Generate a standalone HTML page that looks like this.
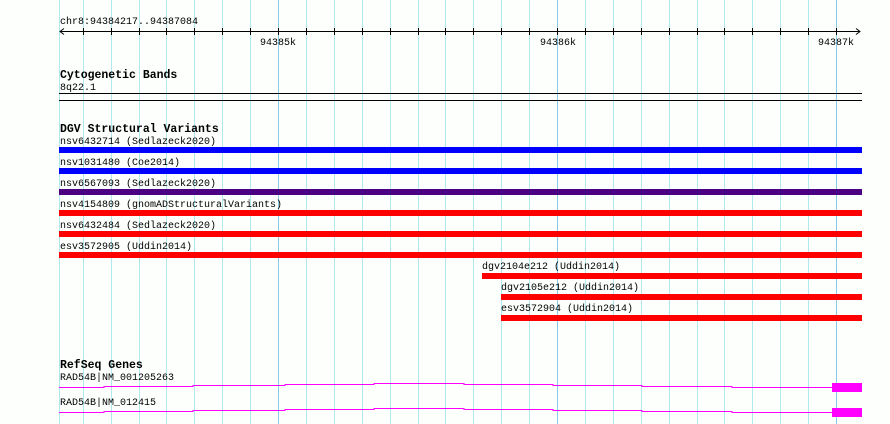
<!DOCTYPE html>
<html><head><meta charset="utf-8"><style>
html,body{margin:0;padding:0;background:#fff}
svg{display:block}
text{font-family:"Liberation Mono","DejaVu Sans Mono",monospace;font-size:10px;fill:#000}
.t{font-weight:bold;font-size:11.5px}
</style></head><body>
<svg width="890" height="424" viewBox="0 0 890 424" xmlns="http://www.w3.org/2000/svg">
<rect width="890" height="424" fill="#fcfffc"/>
<g stroke="#b0e8ee" stroke-width="1">
<path d="M59.5 0V424M83.5 0V424M111.5 0V424M139.5 0V424M166.5 0V424M194.5 0V424M222.5 0V424M250.5 0V424M306.5 0V424M334.5 0V424M362.5 0V424M390.5 0V424M418.5 0V424M445.5 0V424M473.5 0V424M501.5 0V424M529.5 0V424M585.5 0V424M613.5 0V424M641.5 0V424M669.5 0V424M697.5 0V424M724.5 0V424M752.5 0V424M780.5 0V424M808.5 0V424"/>
</g>
<path d="M278.5 0V424M557.5 0V424M836.5 0V424" stroke="#88cce8"/>
<path d="M83.5 28V35M111.5 28V35M139.5 28V35M166.5 28V35M194.5 28V35M222.5 28V35M250.5 28V35M278.5 28V35M306.5 28V35M334.5 28V35M362.5 28V35M390.5 28V35M418.5 28V35M445.5 28V35M473.5 28V35M501.5 28V35M529.5 28V35M557.5 28V35M585.5 28V35M613.5 28V35M641.5 28V35M669.5 28V35M697.5 28V35M724.5 28V35M752.5 28V35M780.5 28V35M808.5 28V35M836.5 28V35" stroke="#000"/>
<!-- ruler -->
<text x="60" y="24">chr8:94384217..94387084</text>
<line x1="60" y1="31.5" x2="860" y2="31.5" stroke="#000"/>
<polyline points="64,28.5 60,31.5 64,34.5" fill="none" stroke="#000"/>
<polyline points="856,28.5 860,31.5 856,34.5" fill="none" stroke="#000"/>
<text x="278" y="45" text-anchor="middle">94385k</text>
<text x="558" y="45" text-anchor="middle">94386k</text>
<text x="836" y="45" text-anchor="middle">94387k</text>
<!-- cytobands -->
<text class="t" x="60" y="78">Cytogenetic Bands</text>
<text x="60" y="90">8q22.1</text>
<line x1="59" y1="93.5" x2="862" y2="93.5" stroke="#000"/>
<line x1="59" y1="100.5" x2="862" y2="100.5" stroke="#000"/>
<!-- DGV -->
<text class="t" x="60" y="132">DGV Structural Variants</text>
<text x="60" y="144">nsv6432714 (Sedlazeck2020)</text>
<rect x="59" y="147" width="803" height="6" fill="#0000ff"/>
<text x="60" y="165">nsv1031480 (Coe2014)</text>
<rect x="59" y="168" width="803" height="6" fill="#0000ff"/>
<text x="60" y="186">nsv6567093 (Sedlazeck2020)</text>
<rect x="59" y="189" width="803" height="6" fill="#4b0082"/>
<text x="60" y="207">nsv4154809 (gnomADStructuralVariants)</text>
<rect x="59" y="210" width="803" height="6" fill="#ff0000"/>
<text x="60" y="228">nsv6432484 (Sedlazeck2020)</text>
<rect x="59" y="231" width="803" height="6" fill="#ff0000"/>
<text x="60" y="249">esv3572905 (Uddin2014)</text>
<rect x="59" y="252" width="803" height="6" fill="#ff0000"/>
<text x="482" y="269">dgv2104e212 (Uddin2014)</text>
<rect x="482" y="273" width="380" height="6" fill="#ff0000"/>
<text x="501" y="290">dgv2105e212 (Uddin2014)</text>
<rect x="501" y="294" width="361" height="6" fill="#ff0000"/>
<text x="501" y="311">esv3572904 (Uddin2014)</text>
<rect x="501" y="315" width="361" height="6" fill="#ff0000"/>
<!-- RefSeq -->
<text class="t" x="60" y="368">RefSeq Genes</text>
<text x="60" y="380">RAD54B|NM_001205263</text>
<polyline points="59,387.5 104,387.5 104,386.5 193,386.5 193,385.5 285,385.5 285,384.5 374,384.5 374,383.5 464,383.5 464,384.5 553,384.5 553,385.5 642,385.5 642,386.5 732,386.5 732,387.5 832,387.5" fill="none" stroke="#ff00ff" stroke-width="1"/>
<rect x="832" y="383" width="30" height="9" fill="#ff00ff"/>
<text x="60" y="405">RAD54B|NM_012415</text>
<polyline points="59,412.5 104,412.5 104,411.5 193,411.5 193,410.5 285,410.5 285,409.5 374,409.5 374,408.5 464,408.5 464,409.5 553,409.5 553,410.5 642,410.5 642,411.5 732,411.5 732,412.5 832,412.5" fill="none" stroke="#ff00ff" stroke-width="1"/>
<rect x="832" y="408" width="30" height="9" fill="#ff00ff"/>
</svg>
</body></html>
